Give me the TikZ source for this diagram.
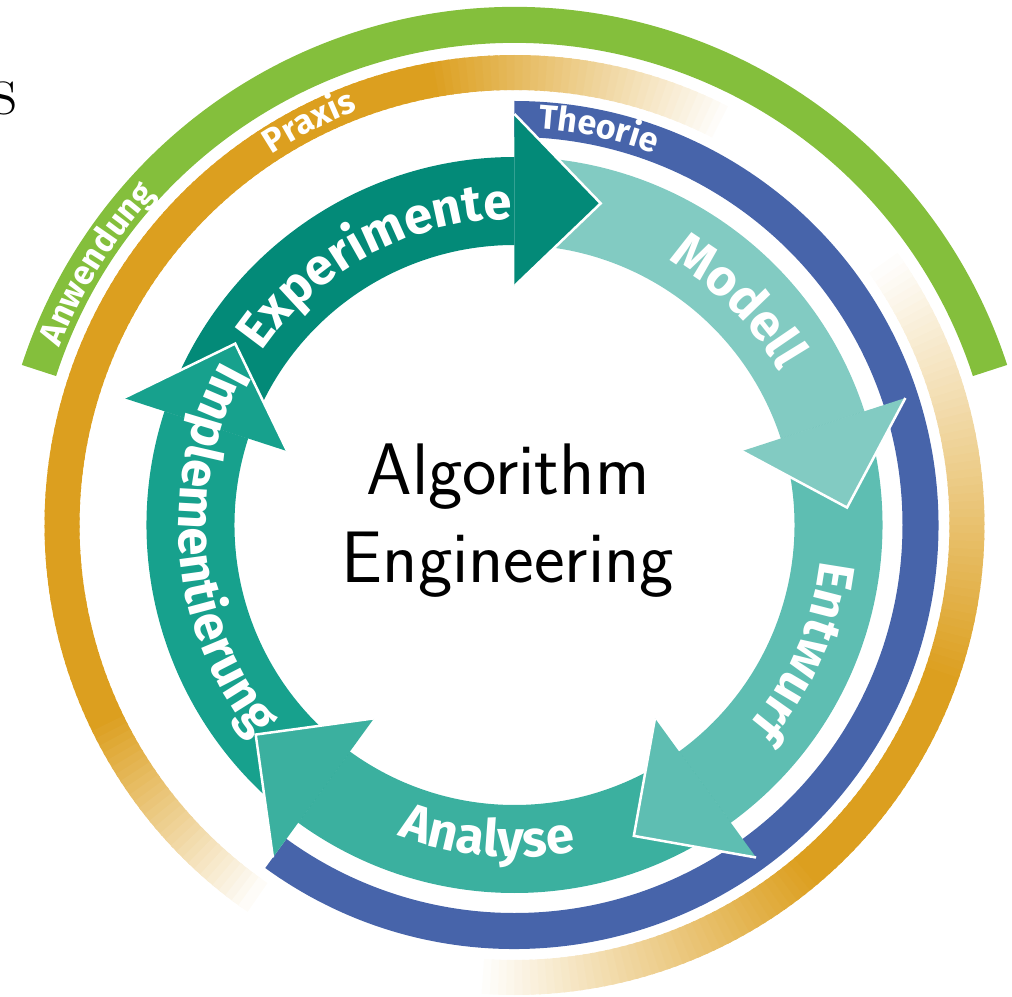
\documentclass[tikz,border=0pt]{standalone}
\usepackage{fontspec}
\usepackage{tikz}
\usetikzlibrary{decorations.text}
\newfontfamily\labelfamily{Fira Sans}

\definecolor{expcol}{HTML}{038A78}
\definecolor{modcol}{HTML}{82CBC2}
\definecolor{entcol}{HTML}{5EBEB2}
\definecolor{anacol}{HTML}{3BB09F}
\definecolor{impcol}{HTML}{17A18D}
\definecolor{theocol}{HTML}{4764AA}
\definecolor{praxcol}{HTML}{DC9F1F}
\definecolor{anwcol}{HTML}{84BF3C}

\newcommand\ringfont{\labelfamily\bfseries\fontsize{34}{38}\selectfont\color{white}}
\newcommand\arrowfont{\labelfamily\bfseries\fontsize{51}{56}\selectfont\color{white}}

\begin{document}
\begin{tikzpicture}[x=1pt,y=1pt,
    headline/.style={white,line width=2.5pt},
    curvetext/.style={decorate,decoration={text along path,text align=center,text={#1}}}]
\useasboundingbox (-514.5,-471) rectangle (497.5,525);

% cut-off letter
\node[anchor=base east,
    font=\rmfamily\fontsize{74}{80}\selectfont,
    inner sep=0] (cut) at (-497,410) {s};

% Anwendung ring
\fill[anwcol] (162:482) arc[start angle=162,end angle=18,radius=482]
    -- (18:518) arc[start angle=18,end angle=162,radius=518] -- cycle;
\path[curvetext={|\ringfont|Anwendung}] (172:488) arc[start angle=172,end angle=124,radius=488];

% Praxis ring, two faded parts
\foreach \a in {62,...,234}{
  \pgfmathsetmacro\p{100*min(1,(\a-62)/38)*min(1,(235-\a)/30)}
  \fill[praxcol!\p!white] (\a:435) arc[start angle=\a,end angle=\a+1.4,radius=435]
      -- (\a+1.4:470) arc[start angle=\a+1.4,end angle=\a,radius=470] -- cycle;
}
\foreach \a in {-95,...,34}{
  \pgfmathsetmacro\p{100*min(1,(\a+95)/45)*min(1,(35-\a)/55)}
  \fill[praxcol!\p!white] (\a:435) arc[start angle=\a,end angle=\a+1.4,radius=435]
      -- (\a+1.4:470) arc[start angle=\a+1.4,end angle=\a,radius=470] -- cycle;
}
\path[curvetext={|\ringfont|Praxis}] (137:443) arc[start angle=137,end angle=97,radius=443];

% Theorie ring
\fill[theocol] (90:388) arc[start angle=90,end angle=-126,radius=388]
    -- (-126:424) arc[start angle=-126,end angle=90,radius=424] -- cycle;
\path[curvetext={|\ringfont|Theorie}] (98:397) arc[start angle=98,end angle=58,radius=397];

% Arrow bodies
\fill[expcol] (162:368) arc[start angle=162,end angle=90,radius=368]
    -- (90:280) arc[start angle=90,end angle=162,radius=280] -- cycle;
\fill[modcol] (90:368) arc[start angle=90,end angle=18,radius=368]
    -- (18:280) arc[start angle=18,end angle=90,radius=280] -- cycle;
\fill[entcol] (18:368) arc[start angle=18,end angle=-54,radius=368]
    -- (-54:280) arc[start angle=-54,end angle=18,radius=280] -- cycle;
\fill[anacol] (-54:368) arc[start angle=-54,end angle=-126,radius=368]
    -- (-126:280) arc[start angle=-126,end angle=-54,radius=280] -- cycle;
\fill[impcol] (234:368) arc[start angle=234,end angle=162,radius=368]
    -- (162:280) arc[start angle=162,end angle=234,radius=280] -- cycle;

% Arrow heads
\fill[expcol] (90:411) -- (75:333) -- (90:239) -- cycle;
\draw[headline] (90:411) -- (75:333) -- (90:239);
\fill[modcol] (18:411) -- (3:333) -- (18:239) -- cycle;
\draw[headline] (18:411) -- (3:333) -- (18:239);
\fill[entcol] (-54:411) -- (-69:333) -- (-54:239) -- cycle;
\draw[headline] (-54:411) -- (-69:333) -- (-54:239);
\fill[anacol] (-126:411) -- (-141:333) -- (-126:239) -- cycle;
\draw[headline] (-126:411) -- (-141:333) -- (-126:239);
\fill[impcol] (162:411) -- (147:333) -- (162:239) -- cycle;
\draw[headline] (162:411) -- (147:333) -- (162:239);

% Arrow labels
\path[curvetext={|\arrowfont|Experimente}] (163:306) arc[start angle=163,end angle=73,radius=306];
\path[curvetext={|\arrowfont|Modell}] (75:306) arc[start angle=75,end angle=15,radius=306];
\path[curvetext={|\arrowfont|Entwurf}] (9:308) arc[start angle=9,end angle=-56,radius=308];
\path[curvetext={|\arrowfont|Analyse}] (-135:332) arc[start angle=-135,end angle=-55,radius=332];
\path[curvetext={|\arrowfont|Implementierung}] (127:336) arc[start angle=127,end angle=243,radius=336];

% Centre
\node[align=center,
    font=\sffamily\fontsize{73}{88}\selectfont
    ] (title) at (-6.5,4) {Algorithm\\Engineering};

\end{tikzpicture}
\end{document}
